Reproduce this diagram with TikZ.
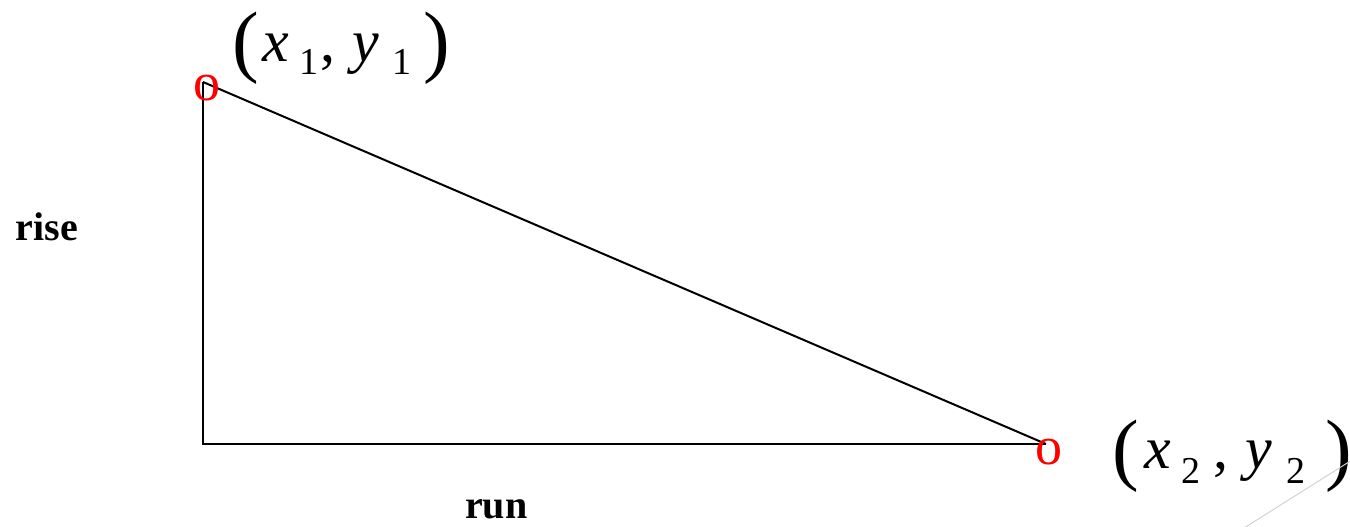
\documentclass[tikz,border=0pt]{standalone}
\usepackage{fontspec}
\setmainfont{Liberation Serif}
\begin{document}
\begin{tikzpicture}[x=0.5pt,y=-0.5pt,
  ptmark/.style={inner sep=0pt,outer sep=0pt,text=red,font=\fontsize{27}{27}\selectfont},
  lblstyle/.style={inner sep=0pt,outer sep=0pt,anchor=base west,font=\fontsize{20}{20}\selectfont\bfseries},
  parstyle/.style={inner sep=0pt,outer sep=0pt,anchor=base west,font=\fontsize{40}{40}\selectfont},
  varstyle/.style={inner sep=0pt,outer sep=0pt,anchor=base west,font=\fontsize{30}{30}\selectfont\itshape},
  substyle/.style={inner sep=0pt,outer sep=0pt,anchor=base west,font=\fontsize{19}{19}\selectfont},
  commastyle/.style={inner sep=0pt,outer sep=0pt,anchor=base west,font=\fontsize{30}{30}\selectfont},
  triedge/.style={draw=black,line width=1pt}]
\useasboundingbox (0,0) rectangle (1350,526);
\coordinate (A) at (203,82);
\coordinate (B) at (203,444);
\coordinate (C) at (1046,444);
\draw[triedge] (A) -- (B) -- (C);
\draw[triedge] (A) -- (C);
\node[ptmark] (p1) at (207,88) {o};
\node[ptmark] (p2) at (1049,452) {o};
% (x1, y1)
\node[parstyle] (l1a) at (232,67) {(};
\node[varstyle] (l1b) at (262,61) {x};
\node[substyle] (l1c) at (299,74) {1};
\node[commastyle] (l1d) at (320,61) {,};
\node[varstyle] (l1e) at (352,61) {y};
\node[substyle] (l1f) at (392,74) {1};
\node[parstyle] (l1g) at (423,67) {)};
% (x2, y2)
\node[parstyle] (l2a) at (1112,475) {(};
\node[varstyle] (l2b) at (1144,468) {x};
\node[substyle] (l2c) at (1181,483) {2};
\node[commastyle] (l2d) at (1213,468) {,};
\node[varstyle] (l2e) at (1245,468) {y};
\node[substyle] (l2f) at (1286,483) {2};
\node[parstyle] (l2g) at (1325,475) {)};
\node[lblstyle] (rise) at (16,240) {rise};
\node[lblstyle] (run) at (465,518) {run};
\coordinate (g1) at (1352,460);
\coordinate (g2) at (1244,528);
\draw[gray!35,line width=0.5pt] (g1) -- (g2);
\end{tikzpicture}
\end{document}
